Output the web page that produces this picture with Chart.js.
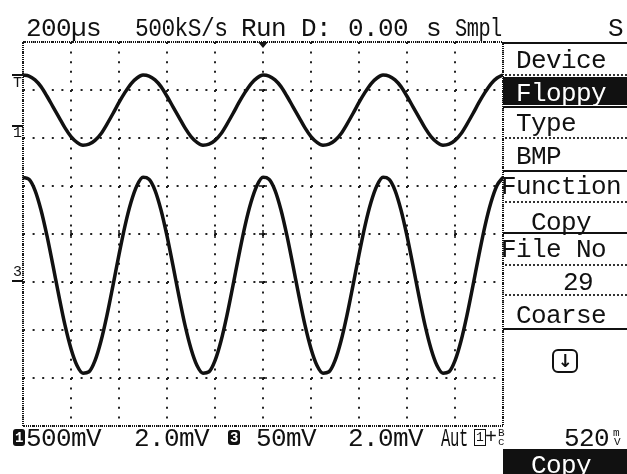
<!DOCTYPE html>
<html>
<head>
<meta charset="utf-8">
<script src="https://cdn.jsdelivr.net/npm/chart.js@4.4.1/dist/chart.umd.min.js"></script>
<style>
  html, body { margin: 0; padding: 0; background: #fff; }
  #screen { position: relative; width: 627px; height: 474px; overflow: hidden;
            font-family: "Liberation Mono", "DejaVu Sans Mono", monospace; font-size: 26px; color: #111; }
  #screen canvas { position: absolute; left: 0; top: 0; }
  .t { position: absolute; line-height: 26px; white-space: pre; letter-spacing: -0.6px; }
  .sq { transform-origin: left top; }
  .w { color: #fff; }
  .inv { position: absolute; background: #111; }
  .solid { position: absolute; left: 503px; width: 124px; height: 0; border-top: 2px solid #111; }
  .dots { position: absolute; left: 505px; width: 122px; height: 0; border-top: 2px dotted #333; }
  .small { position: absolute; font-size: 15px; line-height: 15px; }
  .tiny { position: absolute; font-size: 11px; line-height: 11px; }
  .mark { position: absolute; left: 12px; width: 11px; height: 0; border-top: 2px solid #111; }
</style>
</head>
<body>
<div id="screen">
  <canvas id="scope" width="627" height="474"></canvas>

  <!-- top status line -->
  <div class="t" style="left:26px; top:16px">200µs</div>
  <div class="t sq" style="left:135px; top:16px; transform:scaleX(0.88)">500kS/s</div>
  <div class="t" style="left:241px; top:16px">Run</div>
  <div class="t" style="left:301px; top:16px">D:</div>
  <div class="t" style="left:348px; top:16px">0.00</div>
  <div class="t" style="left:426px; top:16px">s</div>
  <div class="t sq" style="left:455px; top:16px; transform:scaleX(0.78)">Smpl</div>
  <div class="t" style="left:608px; top:16px">S</div>

  <!-- channel markers -->
  <div class="mark" style="top:74px"></div>
  <div class="small" style="left:13px; top:76px">T</div>
  <div class="mark" style="top:125px"></div>
  <div class="small" style="left:13px; top:126px">1</div>
  <div class="small" style="left:13px; top:265px">3</div>
  <div class="mark" style="top:280px"></div>

  <!-- right menu -->
  <div class="solid" style="top:42px"></div>
  <div class="t" style="left:516px; top:48px">Device</div>
  <div class="dots" style="top:74px"></div>
  <div class="inv" style="left:503px; top:77px; width:124px; height:28px"></div>
  <div class="t w" style="left:516px; top:81px">Floppy</div>
  <div class="solid" style="top:106px"></div>
  <div class="t" style="left:516px; top:111px">Type</div>
  <div class="dots" style="top:137px"></div>
  <div class="t" style="left:516px; top:144px">BMP</div>
  <div class="solid" style="top:170px"></div>
  <div class="t" style="left:501px; top:174px">Function</div>
  <div class="dots" style="top:201px"></div>
  <div class="t" style="left:531px; top:210px">Copy</div>
  <div class="solid" style="top:232px"></div>
  <div class="t" style="left:501px; top:237px">File No</div>
  <div class="dots" style="top:264px"></div>
  <div class="t" style="left:563px; top:270px">29</div>
  <div class="dots" style="top:294px"></div>
  <div class="t" style="left:516px; top:303px">Coarse</div>
  <div class="solid" style="top:328px"></div>
  <div style="position:absolute; left:552px; top:349px; width:22px; height:20px; border:2px solid #111; border-radius:6px;
              font-family:'DejaVu Sans'; font-weight:bold; font-size:18px; line-height:20px; text-align:center">↓</div>

  <!-- bottom status line -->
  <div class="inv" style="left:13px; top:429px; width:12px; height:17px; border-radius:3px"></div>
  <div class="small w" style="left:15px; top:431px; font-weight:bold; font-size:14px">1</div>
  <div class="t" style="left:26px; top:426px">500mV</div>
  <div class="t" style="left:134px; top:426px">2.0mV</div>
  <div class="inv" style="left:228px; top:430px; width:12px; height:15px; border-radius:3px"></div>
  <div class="small w" style="left:230px; top:431px; font-weight:bold; font-size:14px">3</div>
  <div class="t" style="left:256px; top:426px">50mV</div>
  <div class="t" style="left:348px; top:426px">2.0mV</div>
  <div class="t sq" style="left:441px; top:426px; transform:scaleX(0.6)">Aut</div>
  <div style="position:absolute; left:474px; top:429px; width:10px; height:15px; border:1.5px solid #111;
              font-size:13px; line-height:15px; text-align:center">1</div>
  <div class="t" style="left:485px; top:428px; font-size:20px; line-height:20px">+</div>
  <div class="tiny" style="left:498px; top:428px">B</div>
  <div class="tiny" style="left:498px; top:437px">c</div>
  <div class="t" style="left:564px; top:426px">520</div>
  <div class="tiny" style="left:613px; top:428px">m</div>
  <div class="tiny" style="left:614px; top:437px">V</div>
  <div class="inv" style="left:503px; top:449px; width:124px; height:25px"></div>
  <div class="t w" style="left:531px; top:453px">Copy</div>
</div>

<script>
// sample times, microseconds (200 us / div, 10 div)
const timesUs = [
  0, 25, 50, 75, 100, 125, 150, 175, 200, 225, 250, 275, 300, 325, 350, 375, 400, 425, 450, 475,
  500, 525, 550, 575, 600, 625, 650, 675, 700, 725, 750, 775, 800, 825, 850, 875, 900, 925, 950, 975,
  1000, 1025, 1050, 1075, 1100, 1125, 1150, 1175, 1200, 1225, 1250, 1275, 1300, 1325, 1350, 1375, 1400, 1425, 1450, 1475,
  1500, 1525, 1550, 1575, 1600, 1625, 1650, 1675, 1700, 1725, 1750, 1775, 1800, 1825, 1850, 1875, 1900, 1925, 1950, 1975,
  2000
];

// trace positions, in divisions from centre
const ch1Div = [
  3.31, 3.29, 3.21, 3.07, 2.87, 2.65, 2.43, 2.21, 2.03, 1.91, 1.85, 1.87, 1.95, 2.09, 2.29, 2.51, 2.74, 2.95, 3.13, 3.25,
  3.31, 3.29, 3.21, 3.07, 2.87, 2.65, 2.43, 2.21, 2.03, 1.91, 1.85, 1.87, 1.95, 2.09, 2.29, 2.51, 2.74, 2.95, 3.13, 3.25,
  3.31, 3.29, 3.21, 3.07, 2.87, 2.65, 2.43, 2.21, 2.03, 1.91, 1.85, 1.87, 1.95, 2.09, 2.29, 2.51, 2.74, 2.95, 3.13, 3.25,
  3.31, 3.29, 3.21, 3.07, 2.87, 2.65, 2.43, 2.21, 2.03, 1.91, 1.85, 1.87, 1.95, 2.09, 2.29, 2.51, 2.74, 2.95, 3.13, 3.25,
  3.31
];
const ch3Div = [
  1.18, 1.14, 0.91, 0.50, -0.04, -0.66, -1.30, -1.90, -2.39, -2.74, -2.90, -2.87, -2.64, -2.23, -1.69, -1.07, -0.43, 0.17, 0.66, 1.01,
  1.18, 1.14, 0.91, 0.50, -0.04, -0.66, -1.30, -1.90, -2.39, -2.74, -2.90, -2.87, -2.64, -2.23, -1.69, -1.07, -0.43, 0.17, 0.66, 1.01,
  1.18, 1.14, 0.91, 0.50, -0.04, -0.66, -1.30, -1.90, -2.39, -2.74, -2.90, -2.87, -2.64, -2.23, -1.69, -1.07, -0.43, 0.17, 0.66, 1.01,
  1.18, 1.14, 0.91, 0.50, -0.04, -0.66, -1.30, -1.90, -2.39, -2.74, -2.90, -2.87, -2.64, -2.23, -1.69, -1.07, -0.43, 0.17, 0.66, 1.01,
  1.18
];

const timeDivUs = 200;
const triggerUs = 1000;

// frame, centre-line ticks and trigger marker
const screenDecor = {
  id: 'screenDecor',
  beforeDatasetsDraw(chart) {
    const { ctx, chartArea: a, scales: { x, y } } = chart;
    ctx.save();
    ctx.strokeStyle = '#111';
    ctx.lineWidth = 2;
    ctx.setLineDash([1, 1]);
    ctx.strokeRect(a.left, a.top, a.right - a.left, a.bottom - a.top);
    ctx.setLineDash([]);

    const cx = x.getPixelForValue(triggerUs);
    const cy = y.getPixelForValue(0);
    ctx.lineWidth = 1.5;
    ctx.beginPath();
    for (let v = -3; v <= 3; v++) {
      const py = y.getPixelForValue(v);
      ctx.moveTo(cx - 4, py); ctx.lineTo(cx + 4, py);
    }
    for (let t = timeDivUs; t < 2000; t += timeDivUs) {
      const px = x.getPixelForValue(t);
      ctx.moveTo(px, cy - 4); ctx.lineTo(px, cy + 4);
    }
    ctx.stroke();

    ctx.fillStyle = '#111';
    ctx.beginPath();
    ctx.moveTo(cx - 5, a.top);
    ctx.lineTo(cx + 5, a.top);
    ctx.lineTo(cx, a.top + 6);
    ctx.closePath();
    ctx.fill();
    ctx.restore();
  }
};

const gridStyle = { color: '#222', lineWidth: 2, drawTicks: false };
const gridDots = { display: false, dash: [2, 7.6] };

new Chart(document.getElementById('scope').getContext('2d'), {
  type: 'line',
  data: {
    datasets: [
      { label: 'CH1', data: ch1Div.map((v, i) => ({ x: timesUs[i], y: v })) },
      { label: 'CH3', data: ch3Div.map((v, i) => ({ x: timesUs[i], y: v })) }
    ]
  },
  options: {
    responsive: false,
    animation: false,
    layout: { padding: { left: 23, top: 42, right: 124, bottom: 48 } },
    elements: {
      point: { radius: 0 },
      line: { borderColor: '#111', borderWidth: 3.5, cubicInterpolationMode: 'monotone' }
    },
    plugins: { legend: { display: false }, tooltip: { enabled: false } },
    scales: {
      x: { type: 'linear', min: 0, max: 2000, ticks: { display: false, stepSize: timeDivUs }, grid: gridStyle, border: gridDots },
      y: { type: 'linear', min: -4, max: 4, ticks: { display: false, stepSize: 1 }, grid: gridStyle, border: gridDots }
    }
  },
  plugins: [screenDecor]
});
</script>
</body>
</html>
